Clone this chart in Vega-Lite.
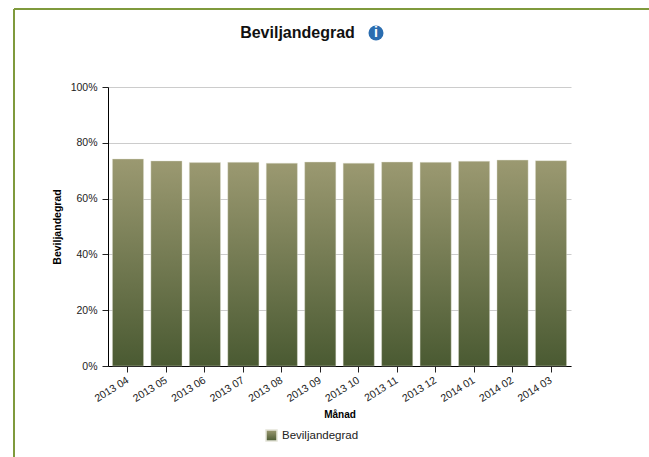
{
"$schema":"https://vega.github.io/schema/vega-lite/v6.json",
"width":463,"height":279,
"autosize":{"type":"none"},
"padding":{"left":108,"top":87,"right":78,"bottom":91},
"background":"white",
"config":{"view":{"stroke":null},"font":"Liberation Sans"},
"title":{"text":"Beviljandegrad","font":"Liberation Sans","fontSize":16,"fontWeight":"bold","color":"#111111","anchor":"middle","dx":-42,"offset":-49,"baseline":"bottom"},
"data":{"values":[
{"month":"2013 04","series":"Beviljandegrad","rate":74.2},
{"month":"2013 05","series":"Beviljandegrad","rate":73.5},
{"month":"2013 06","series":"Beviljandegrad","rate":72.9},
{"month":"2013 07","series":"Beviljandegrad","rate":73.0},
{"month":"2013 08","series":"Beviljandegrad","rate":72.7},
{"month":"2013 09","series":"Beviljandegrad","rate":73.1},
{"month":"2013 10","series":"Beviljandegrad","rate":72.7},
{"month":"2013 11","series":"Beviljandegrad","rate":73.1},
{"month":"2013 12","series":"Beviljandegrad","rate":73.0},
{"month":"2014 01","series":"Beviljandegrad","rate":73.4},
{"month":"2014 02","series":"Beviljandegrad","rate":73.8},
{"month":"2014 03","series":"Beviljandegrad","rate":73.6}
]},
"encoding":{
"x":{"field":"month","type":"ordinal","sort":null,"title":"Månad","scale":{"paddingInner":0.19,"paddingOuter":0.115},
 "axis":{"labelAngle":-32,"labelAlign":"right","labelBaseline":"middle","labelFontSize":10.5,"labelColor":"#222222","labelPadding":7,"tickColor":"#222222","tickSize":6,"domainColor":"#000000","titleFontSize":10,"titleFontWeight":"bold","titleColor":"#000000","titlePadding":6,"labelFont":"Liberation Sans","titleFont":"Liberation Sans"}},
"y":{"field":"rate","type":"quantitative","title":"Beviljandegrad","scale":{"domain":[0,100]},
 "axis":{"values":[0,20,40,60,80,100],"format":".0f","labelExpr":"datum.label + '%'","labelFontSize":10.5,"labelColor":"#222222","labelPadding":5,"tickColor":"#222222","tickSize":6,"domainColor":"#000000","gridColor":"#cccccc","titleFontSize":10.5,"titleFontWeight":"bold","titleColor":"#000000","titlePadding":8,"labelFont":"Liberation Sans","titleFont":"Liberation Sans"}}
},
"layer":[
{"mark":{"type":"bar","strokeWidth":1,"strokeOpacity":0.4,"fill":{"gradient":"linear","x1":0,"y1":0,"x2":0,"y2":1,"stops":[{"offset":0,"color":"#9b9971"},{"offset":1,"color":"#4a5a32"}]}},
"encoding":{
"stroke":{"field":"series","type":"nominal","scale":{"range":["#e4e4d8"]},
 "legend":{"title":null,"orient":"none","legendX":157,"legendY":342,"symbolType":"square","symbolSize":120,"labelFontSize":11.5,"labelColor":"#222222","labelFont":"Liberation Sans","labelOffset":4,
 "encoding":{"symbols":{"fill":{"value":{"gradient":"linear","x1":0,"y1":0,"x2":0,"y2":1,"stops":[{"offset":0,"color":"#9b9971"},{"offset":1,"color":"#4a5a32"}]}},"fillOpacity":{"value":1},"opacity":{"value":1}}}}}
}},
{"data":{"values":[{"frame":"top"}]},"mark":{"type":"rule","color":"#7f9a3c","strokeWidth":2},"encoding":{"x":{"value":-94},"x2":{"value":541},"y":{"value":-78}}},
{"data":{"values":[{"frame":"left"}]},"mark":{"type":"rule","color":"#7f9a3c","strokeWidth":2},"encoding":{"x":{"value":-94},"y":{"value":-78},"y2":{"value":370}}},
{"data":{"values":[{"icon":"info"}]},"mark":{"type":"point","filled":true,"shape":"circle","size":225,"color":"#2a6db0","opacity":1},"encoding":{"x":{"value":268},"y":{"value":-54}}},
{"data":{"values":[{"icon":"i"}]},"mark":{"type":"text","text":"i","font":"Liberation Sans","fontWeight":"bold","fontSize":14,"color":"white","align":"center","baseline":"middle"},"encoding":{"x":{"value":268},"y":{"value":-54}}}
]
}
